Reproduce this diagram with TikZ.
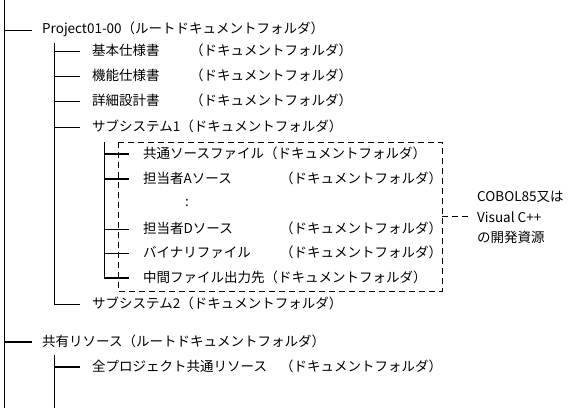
\documentclass[tikz,border=0pt]{standalone}
\usepackage{fontspec}
\setmainfont{Noto Sans CJK JP}
\begin{document}
\begin{tikzpicture}[x=1pt,y=-1pt,
  thin/.style={line width=1pt},
  thick2/.style={line width=2pt},
  lbl/.style={anchor=west,inner sep=0pt,font=\fontsize{13.5}{15}\selectfont},
  dsh/.style={line width=1pt,dash pattern=on 6pt off 4pt}]
\useasboundingbox[fill=white] (0,0) rectangle (585,408);
% main vertical
\coordinate (r0) at (4,0);
\coordinate (r1) at (4,408);
\draw[thin] (r0) -- (r1);
% Project row
\coordinate (pA) at (4,30);
\coordinate (pB) at (32,30);
\draw[thin] (pA) -- (pB);
\node[lbl] (p) at (42,29) {Project01-00（ルートドキュメントフォルダ）};
% level 2
\coordinate (v2t) at (54,43);
\coordinate (v2b) at (54,304);
\draw[thin] (v2t) -- (v2b);
\foreach \y/\n in {51/a,76/b,101/c,127/d,304/e}{
  \coordinate (h\n0) at (54,\y);
  \coordinate (h\n1) at (80,\y);
  \draw[thin] (h\n0) -- (h\n1);
}
\node[lbl] (n1) at (92,50) {基本仕様書};
\node[lbl] (n1p) at (190,50) {（ドキュメントフォルダ）};
\node[lbl] (n2) at (92,75) {機能仕様書};
\node[lbl] (n2p) at (190,75) {（ドキュメントフォルダ）};
\node[lbl] (n3) at (92,100) {詳細設計書};
\node[lbl] (n3p) at (190,100) {（ドキュメントフォルダ）};
\node[lbl] (n4) at (92,126) {サブシステム1（ドキュメントフォルダ）};
\node[lbl] (n5) at (92,303) {サブシステム2（ドキュメントフォルダ）};
% level 3
\coordinate (v3t) at (104,142);
\coordinate (v3b) at (104,279);
\draw[thin] (v3t) -- (v3b);
\foreach \y/\n/\s in {154/a/thick2,179/b/thick2,229/c/thin,253/d/thin,278/e/thick2}{
  \coordinate (g\n0) at (104,\y);
  \coordinate (g\n1) at (129,\y);
  \draw[\s] (g\n0) -- (g\n1);
}
\node[lbl] (m1) at (143,153) {共通ソースファイル（ドキュメントフォルダ）};
\node[lbl] (m2) at (143,178) {担当者Aソース};
\node[lbl] (m2p) at (280,178) {（ドキュメントフォルダ）};
\node[lbl] (dots) at (185,203) {:};
\node[lbl] (m3) at (143,228) {担当者Dソース};
\node[lbl] (m3p) at (280,228) {（ドキュメントフォルダ）};
\node[lbl] (m4) at (143,252) {バイナリファイル};
\node[lbl] (m4p) at (280,252) {（ドキュメントフォルダ）};
\node[lbl] (m5) at (143,277) {中間ファイル出力先（ドキュメントフォルダ）};
% dashed box
\coordinate (b0) at (118,142);
\coordinate (b1) at (442,291);
\draw[dsh] (b0) rectangle (b1);
\coordinate (c0) at (442,216);
\coordinate (c1) at (470,216);
\draw[dsh] (c0) -- (c1);
\node[lbl] (t1) at (477,197) {COBOL85又は};
\node[lbl] (t2) at (477,217) {Visual C++};
\node[lbl] (t3) at (477,237) {の開発資源};
% shared resources
\coordinate (sA) at (4,342);
\coordinate (sB) at (32,342);
\draw[thick2] (sA) -- (sB);
\node[lbl] (s) at (42,341) {共有リソース（ルートドキュメントフォルダ）};
\coordinate (w2t) at (54,355);
\coordinate (w2b) at (54,408);
\draw[thin] (w2t) -- (w2b);
\coordinate (k0) at (54,367);
\coordinate (k1) at (80,367);
\draw[thick2] (k0) -- (k1);
\node[lbl] (s1) at (92,366) {全プロジェクト共通リソース};
\node[lbl] (s1p) at (280,366) {（ドキュメントフォルダ）};
\end{tikzpicture}
\end{document}
